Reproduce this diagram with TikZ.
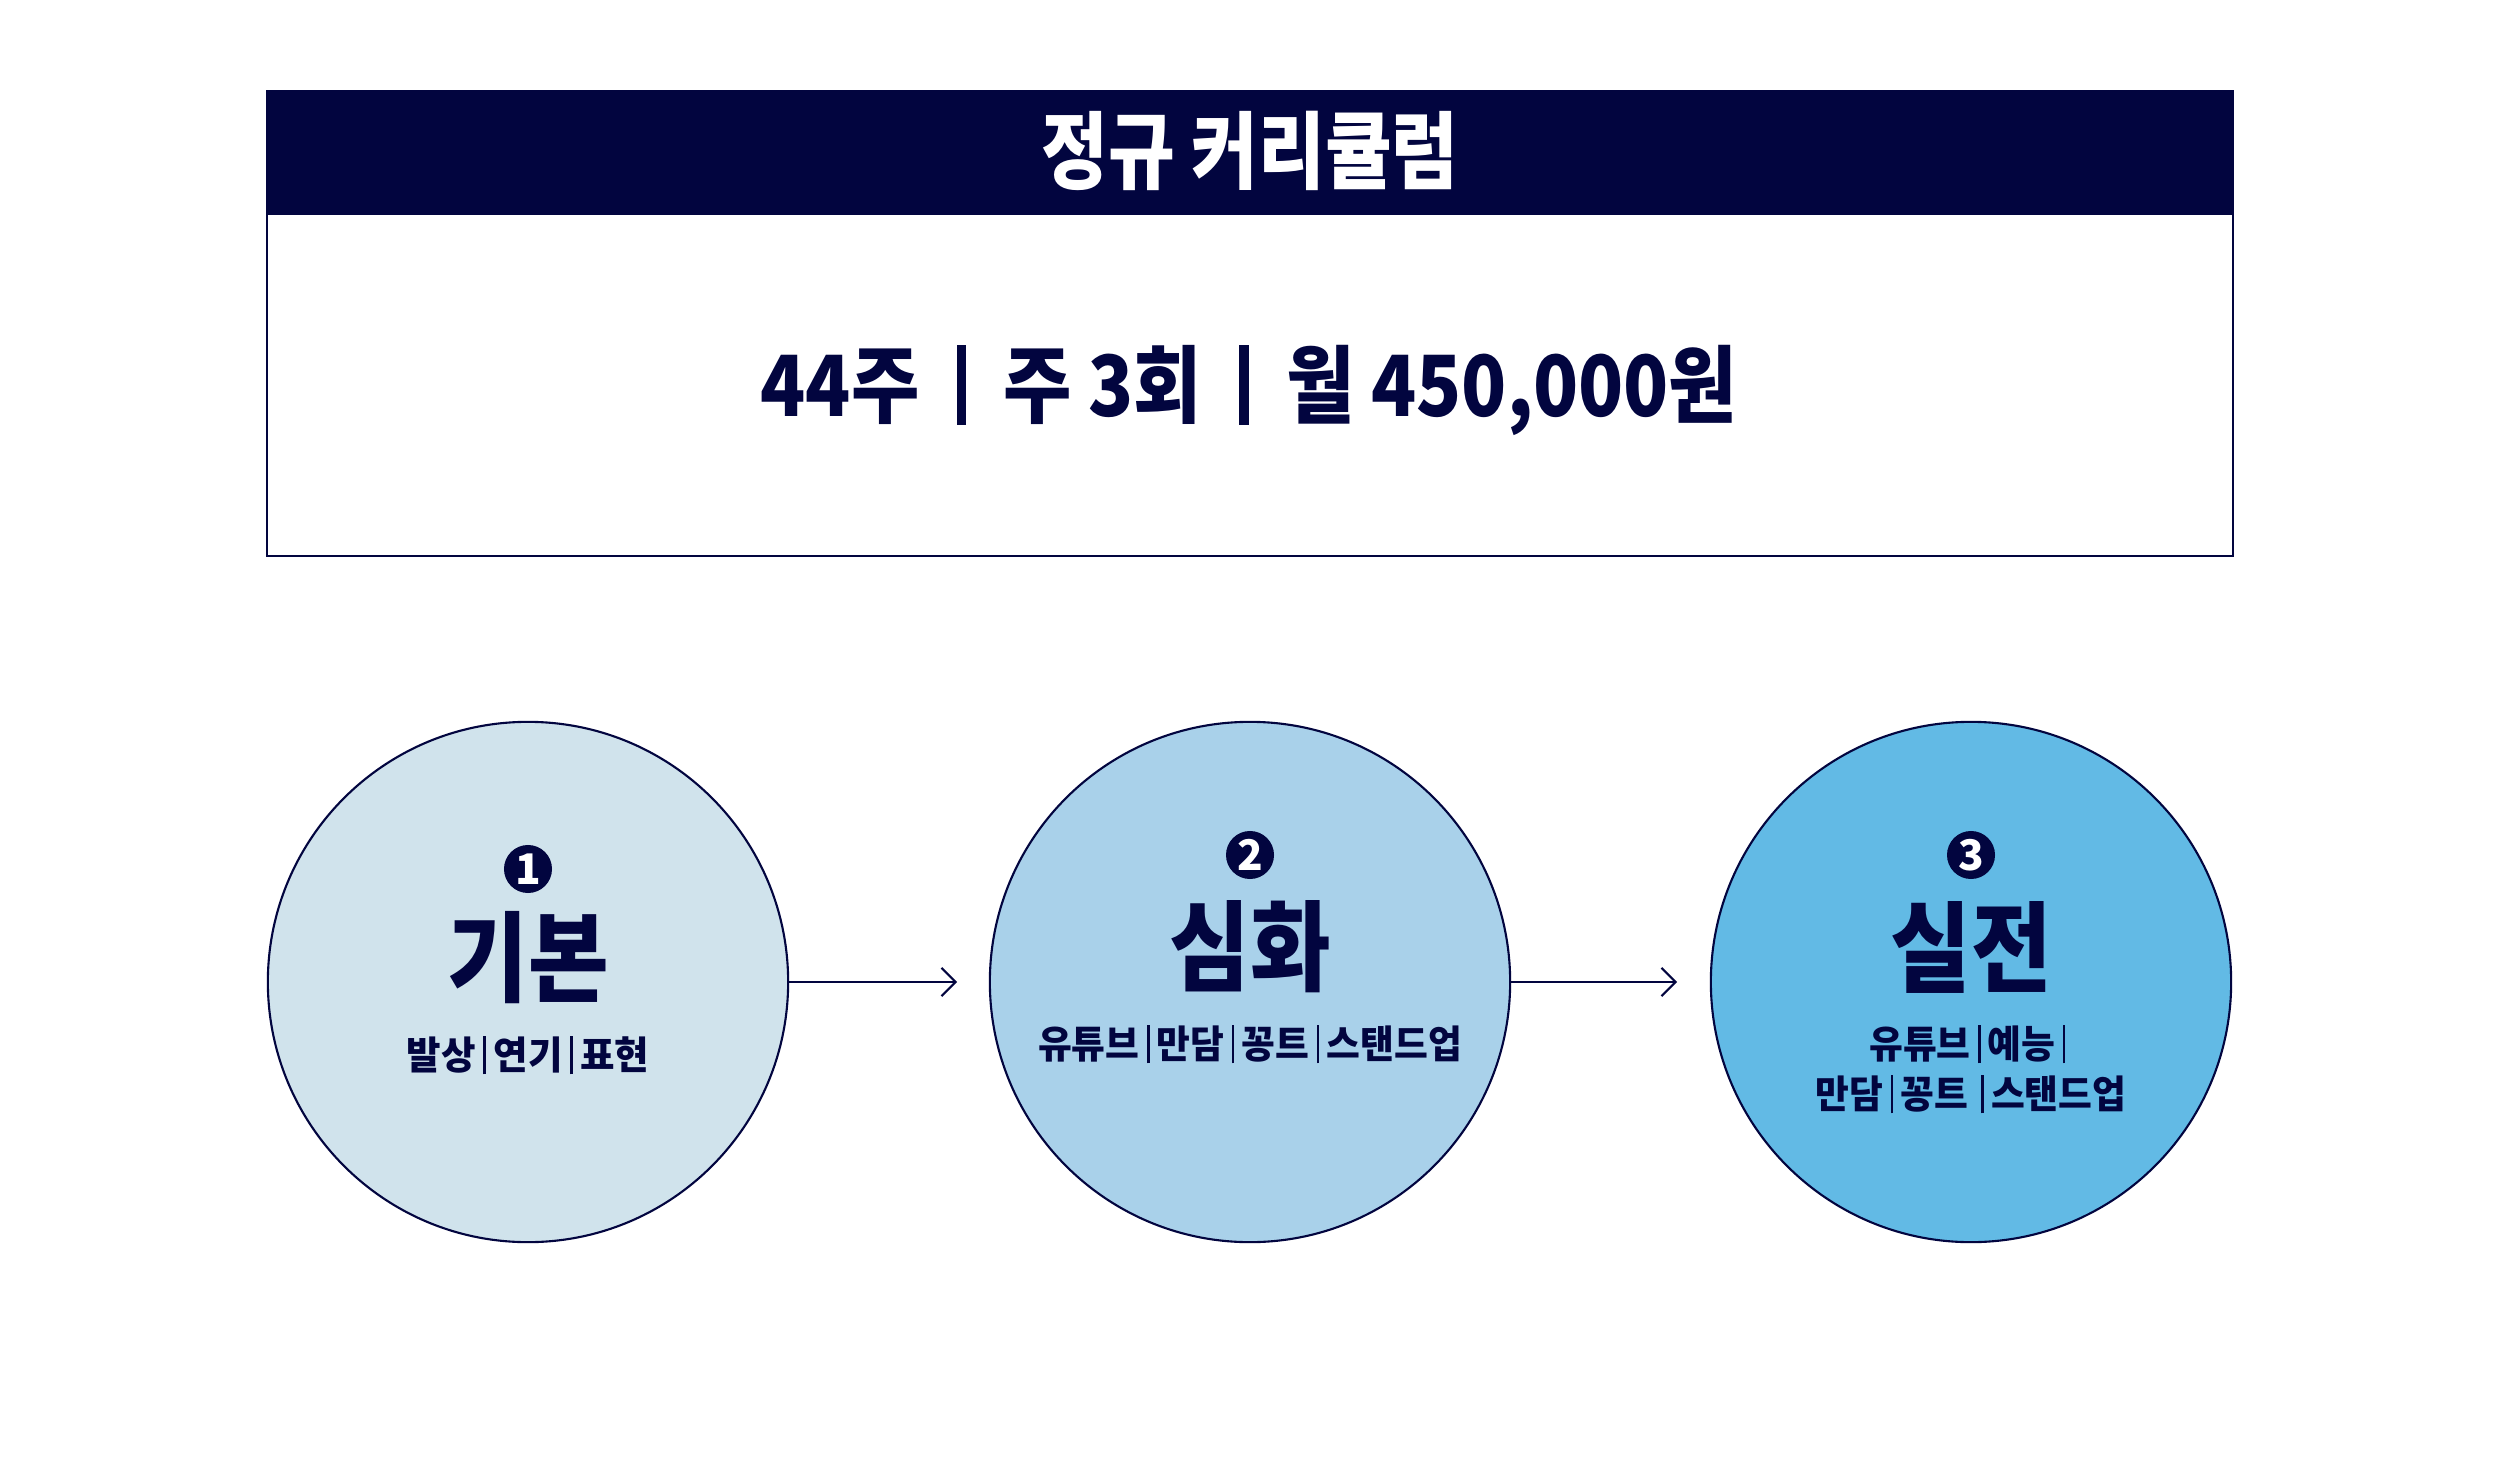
\documentclass[tikz,border=0pt]{standalone}
\usepackage{fontspec}
\usepackage{graphicx}
\usetikzlibrary{arrows.meta}
\newfontfamily\kr{Noto Sans CJK KR}
\definecolor{navy}{HTML}{02053F}
\definecolor{cone}{HTML}{D0E3EC}
\definecolor{ctwo}{HTML}{A9D1EA}
\definecolor{cthree}{HTML}{62BAE5}
\newcommand{\thinsep}{\hspace{0.2em}\rule[-0.12em]{0.07em}{1.0em}\hspace{0.2em}}
\newcommand{\thicksep}{\hspace{0.5em}\rule[-0.1em]{0.13em}{0.95em}\hspace{0.5em}}
\tikzset{
  stage/.style={circle, draw=navy, line width=0.6pt, minimum size=5.2cm, inner sep=0pt},
  badge/.style={circle, fill=navy, minimum size=0.48cm, inner sep=0pt, text=white, font=\kr\bfseries\fontsize{12}{12}\selectfont},
  heading/.style={font=\kr\bfseries\fontsize{28}{28}\selectfont, text=navy, inner sep=0pt},
  sub/.style={font=\kr\bfseries\fontsize{11}{11}\selectfont, text=navy, inner sep=0pt},
  flow/.style={draw=navy, line width=0.6pt, -{Straight Barb[length=4pt,width=8pt,line width=0.6pt]}}
}
\begin{document}
\begin{tikzpicture}[x=0.01cm,y=-0.01cm]
\useasboundingbox (0,0) rectangle (2500,1473);
\fill[white] (0,0) rectangle (2500,1473);
% top box
\node[draw=navy, line width=0.6pt, minimum width=19.64cm, minimum height=4.65cm, inner sep=0pt] (box) at (1250,323.5) {};
\node[fill=navy, minimum width=19.64cm, minimum height=1.24cm, inner sep=0pt] (head) at (1250,153) {};
\node[text=white, inner sep=0pt, font=\kr\bfseries\fontsize{24}{24}\selectfont] (title) at (1250,151) {\scalebox{0.86}[1]{정규 커리큘럼}};
\node[text=navy, inner sep=0pt, font=\kr\bfseries\fontsize{24}{24}\selectfont] (price) at (1249,390) {\scalebox{0.88}[1]{44주\thicksep 주 3회\thicksep 월 450,000원}};
% circles
\node[stage, fill=cone] (c1) at (528,982) {};
\node[stage, fill=ctwo] (c2) at (1250,982) {};
\node[stage, fill=cthree] (c3) at (1971,982) {};
% badges
\node[badge] (b1) at (528,869) {1};
\node[badge] (b2) at (1250,855) {2};
\node[badge] (b3) at (1971,855) {3};
% headings
\node[heading] (h1) at (528,958) {\scalebox{0.89}[1]{기본}};
\node[heading] (h2) at (1250,947) {\scalebox{0.89}[1]{심화}};
\node[heading] (h3) at (1971,947) {\scalebox{0.89}[1]{실전}};
% subtexts
\node[sub] (s1) at (528,1055) {\scalebox{0.97}[1]{발상\thinsep 연기\thinsep 표현}};
\node[sub] (s2) at (1250,1044) {\scalebox{0.95}[1]{유튜브\thinsep 만담\thinsep 꽁트\thinsep 스탠드업}};
\node[sub] (s3a) at (1971,1044) {\scalebox{0.95}[1]{유튜브\thinsep 예능\thinsep}};
\node[sub] (s3b) at (1971,1094) {\scalebox{0.95}[1]{만담\thinsep 꽁트\hspace{0.15em}\thinsep 스탠드업}};
% arrows
\coordinate (e1) at (957,982);
\coordinate (e2) at (1677,982);
\draw[flow] (c1.east) -- (e1);
\draw[flow] (c2.east) -- (e2);
\end{tikzpicture}
\end{document}
